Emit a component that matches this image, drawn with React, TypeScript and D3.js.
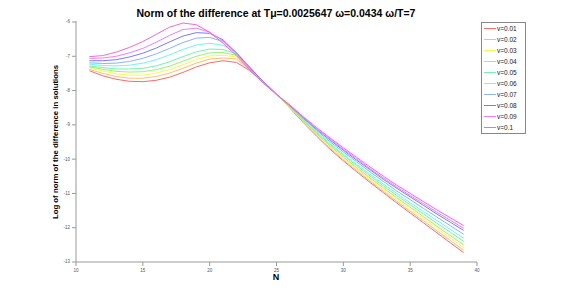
import React from "react";
import { scaleLinear, line } from "d3";

// N values on the x axis
const nValues = [11, 12, 13, 14, 15, 16, 17, 18, 19, 20, 21, 22, 23, 24, 25, 26, 27, 28, 29, 30, 31, 32, 33, 34, 35, 36, 37, 38, 39];

const seriesNames = ["v=0.01", "v=0.02", "v=0.03", "v=0.04", "v=0.05", "v=0.06", "v=0.07", "v=0.08", "v=0.09", "v=0.1"];
const seriesColors = ["#ff6a6a", "#ffbf6a", "#f8f850", "#96f470", "#70f4ae", "#70f6f6", "#8cb2ff", "#7a7aff", "#f47cff", "#ff66cf"];

const v001 = [-7.42, -7.57, -7.67, -7.73, -7.74, -7.70, -7.61, -7.47, -7.31, -7.19, -7.13, -7.18, -7.42, -7.76, -8.10, -8.51, -8.93, -9.33, -9.71, -10.05, -10.37, -10.68, -10.98, -11.28, -11.57, -11.86, -12.15, -12.44, -12.73];
const v002 = [-7.38, -7.50, -7.59, -7.64, -7.64, -7.59, -7.49, -7.35, -7.20, -7.08, -7.05, -7.08, -7.39, -7.75, -8.10, -8.50, -8.91, -9.31, -9.68, -10.02, -10.33, -10.64, -10.94, -11.23, -11.52, -11.80, -12.09, -12.37, -12.66];
const v003 = [-7.34, -7.43, -7.51, -7.55, -7.55, -7.49, -7.39, -7.25, -7.10, -6.99, -6.97, -7.02, -7.37, -7.74, -8.10, -8.49, -8.90, -9.28, -9.65, -9.98, -10.29, -10.59, -10.89, -11.18, -11.46, -11.74, -12.02, -12.30, -12.58];
const v004 = [-7.31, -7.38, -7.44, -7.46, -7.45, -7.39, -7.29, -7.14, -7.00, -6.90, -6.89, -6.97, -7.35, -7.73, -8.10, -8.48, -8.88, -9.26, -9.61, -9.94, -10.25, -10.55, -10.84, -11.13, -11.40, -11.68, -11.96, -12.23, -12.50];
const v005 = [-7.28, -7.33, -7.37, -7.37, -7.35, -7.28, -7.16, -7.01, -6.87, -6.79, -6.80, -6.93, -7.33, -7.73, -8.10, -8.47, -8.86, -9.23, -9.57, -9.89, -10.19, -10.49, -10.78, -11.06, -11.33, -11.60, -11.87, -12.13, -12.40];
const v006 = [-7.23, -7.27, -7.28, -7.26, -7.20, -7.10, -6.96, -6.80, -6.67, -6.62, -6.68, -6.90, -7.32, -7.73, -8.10, -8.46, -8.84, -9.20, -9.54, -9.85, -10.15, -10.44, -10.73, -11.00, -11.27, -11.53, -11.79, -12.05, -12.31];
const v007 = [-7.19, -7.21, -7.20, -7.15, -7.06, -6.93, -6.77, -6.60, -6.47, -6.45, -6.57, -6.89, -7.32, -7.73, -8.10, -8.45, -8.81, -9.16, -9.49, -9.79, -10.08, -10.37, -10.65, -10.93, -11.18, -11.44, -11.69, -11.94, -12.19];
const v008 = [-7.13, -7.13, -7.10, -7.02, -6.91, -6.76, -6.58, -6.41, -6.31, -6.33, -6.52, -6.90, -7.33, -7.74, -8.11, -8.44, -8.79, -9.13, -9.44, -9.74, -10.03, -10.31, -10.59, -10.85, -11.10, -11.35, -11.60, -11.84, -12.08];
const v009 = [-7.06, -7.05, -7.00, -6.90, -6.77, -6.59, -6.39, -6.22, -6.18, -6.30, -6.55, -6.93, -7.36, -7.76, -8.11, -8.43, -8.78, -9.11, -9.41, -9.71, -9.99, -10.28, -10.55, -10.81, -11.06, -11.30, -11.55, -11.78, -12.02];
const v010 = [-7.01, -6.98, -6.88, -6.74, -6.57, -6.36, -6.15, -6.03, -6.08, -6.30, -6.62, -6.98, -7.40, -7.78, -8.12, -8.42, -8.76, -9.08, -9.38, -9.67, -9.95, -10.23, -10.50, -10.76, -11.00, -11.24, -11.48, -11.71, -11.94];

const allSeries = [v001, v002, v003, v004, v005, v006, v007, v008, v009, v010];

const xTicks = [10, 15, 20, 25, 30, 35, 40];
const yTicks = [-6, -7, -8, -9, -10, -11, -12, -13];

const width = 581;
const height = 294;
const left = 76, right = 477, top = 22, bottom = 262;

function App() {
  const x = scaleLinear().domain([10, 40]).range([left, right]);
  const y = scaleLinear().domain([-13, -6]).range([bottom, top]);

  const pathFor = line<number>()
    .x((d, i) => x(nValues[i]))
    .y((d) => y(d));

  const font = "'Liberation Sans', Arial, sans-serif";

  return (
    <svg width={width} height={height} style={{ position: "absolute", left: 0, top: 0, background: "#fff" }} fontFamily={font}>
      <rect x={0} y={0} width={width} height={height} fill="#fff" />
      <text x={276} y={17} textAnchor="middle" fontSize={10.5} fontWeight="bold" fill="#000">
        Norm of the difference at Tμ=0.0025647 ω=0.0434 ω/T=7
      </text>

      {/* axes */}
      <g className="y-axis">
        <line x1={left} x2={left} y1={top - 1} y2={bottom} stroke="#999" strokeWidth={1} />
        {yTicks.map((t) => (
          <g key={t} transform={`translate(${left},${y(t)})`}>
            <line x1={-4} x2={0} stroke="#999" />
            <text x={-6} dy="0.32em" textAnchor="end" fontSize={4.5} fill="#555">
              {t}
            </text>
          </g>
        ))}
      </g>
      <g className="x-axis">
        <line x1={left} x2={right} y1={bottom} y2={bottom} stroke="#999" strokeWidth={1} />
        {xTicks.map((t) => (
          <g key={t} transform={`translate(${x(t)},${bottom})`}>
            <line y1={0} y2={4} stroke="#999" />
            <text y={10} textAnchor="middle" fontSize={4.5} fill="#555">
              {t}
            </text>
          </g>
        ))}
      </g>

      <text x={276} y={280} textAnchor="middle" fontSize={9} fontWeight="bold">N</text>
      <text transform={`translate(58,${(top + bottom) / 2}) rotate(-90)`} textAnchor="middle" fontSize={7.8} fontWeight="bold">
        Log of norm of the difference in solutions
      </text>

      <g className="content">
        {allSeries.map((s, i) => (
          <path key={i} d={pathFor(s) || ""} fill="none" stroke={seriesColors[i]} strokeWidth={1} />
        ))}
      </g>

      <g className="legend">
        <rect x={481.5} y={22.5} width={44} height={111} fill="#fff" stroke="#888" />
        {seriesNames.map((name, i) => (
          <g key={name} transform={`translate(484,${28.5 + i * 11})`}>
            <line x1={0} y1={0} x2={12} y2={0} stroke={seriesColors[i]} strokeWidth={1} />
            <text x={13} dy="0.35em" fontSize={6.5} fill="#222">
              {name}
            </text>
          </g>
        ))}
      </g>
    </svg>
  );
}

export default App;
